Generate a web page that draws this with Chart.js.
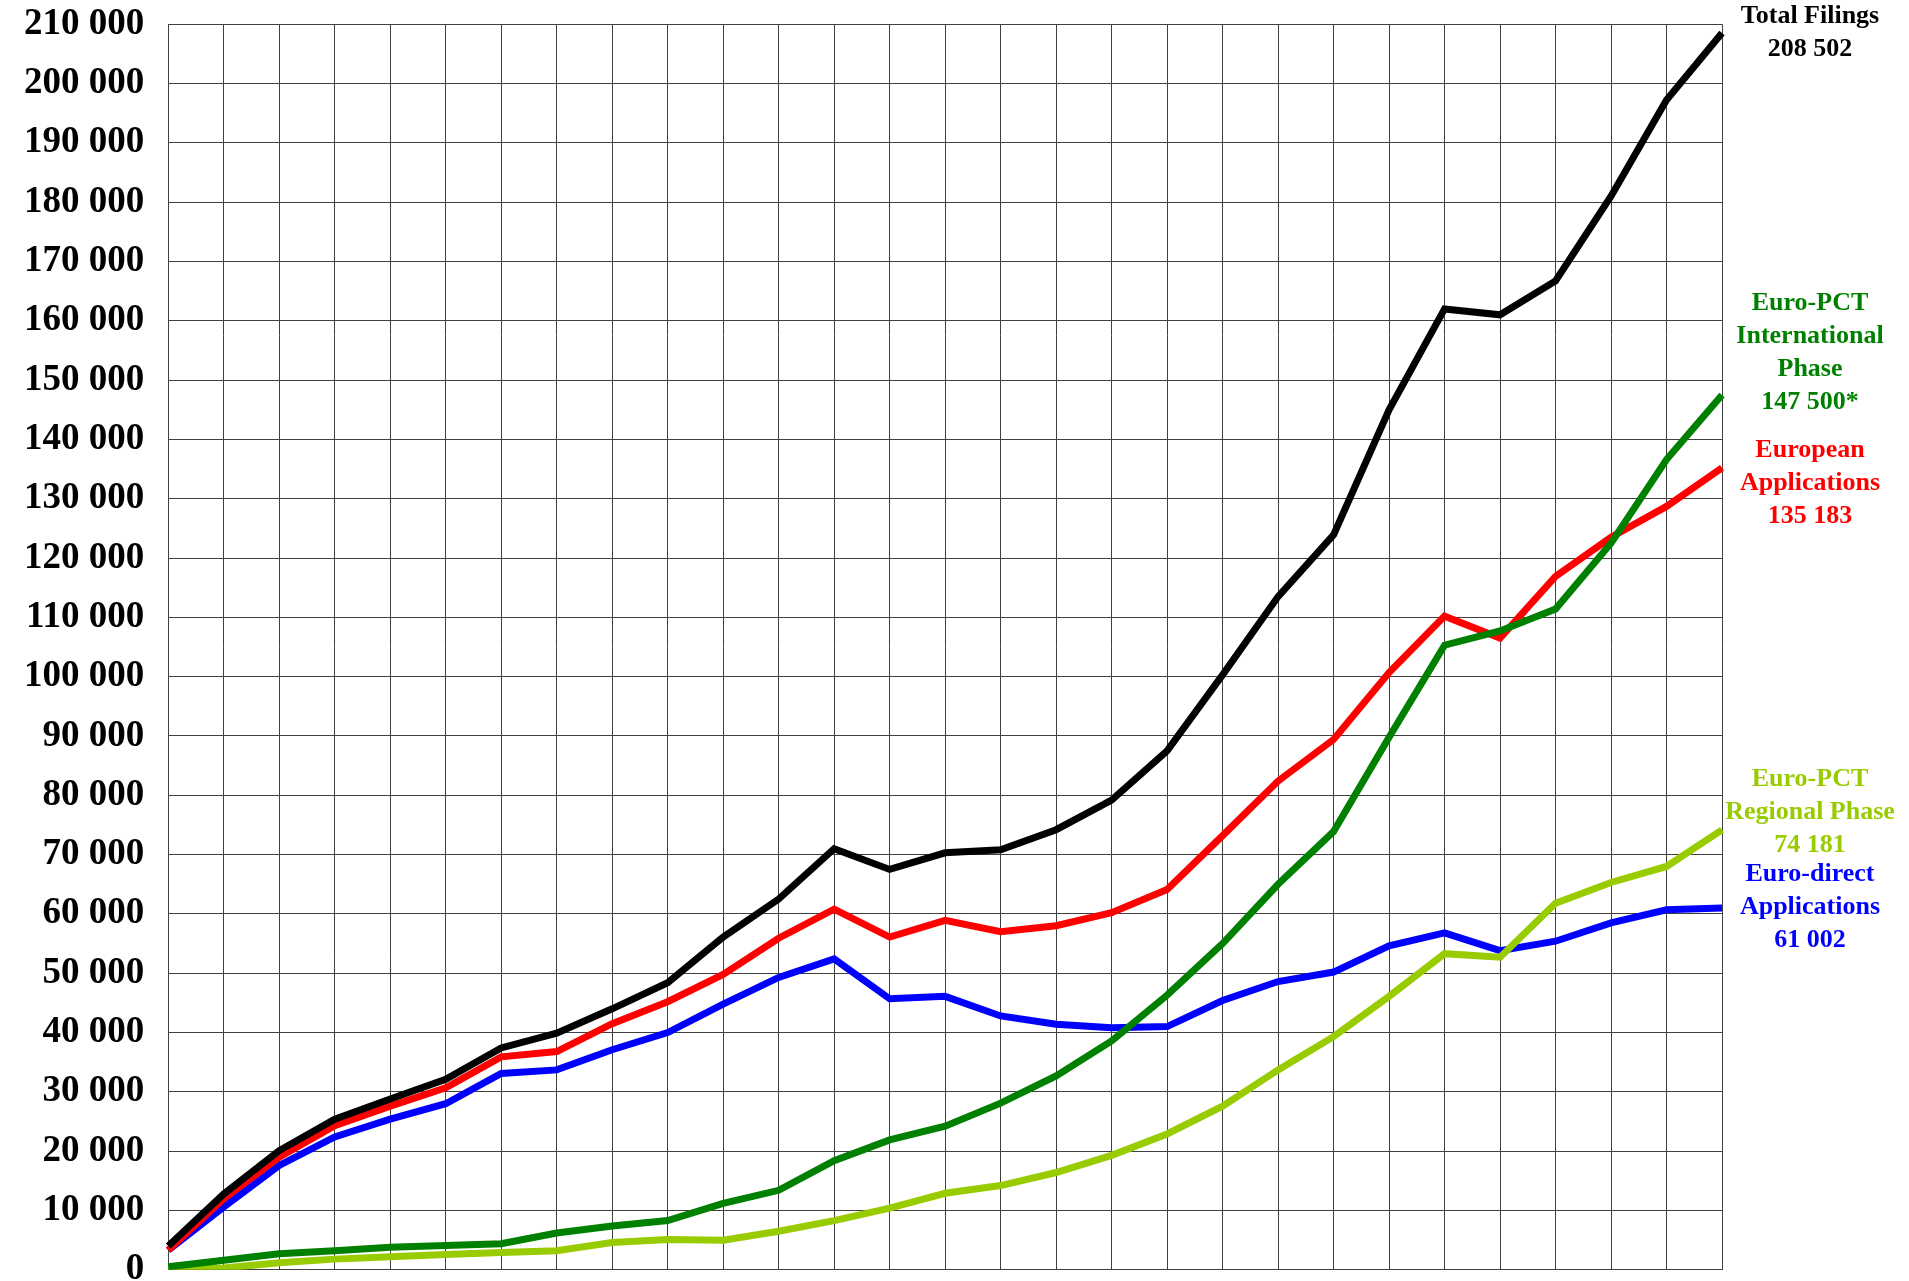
<!DOCTYPE html>
<html>
<head>
<meta charset="utf-8">
<title>EPO filings</title>
<script src="https://cdn.jsdelivr.net/npm/chart.js@4.4.0/dist/chart.umd.min.js"></script>
<style>
  html, body { margin: 0; padding: 0; background: #ffffff; overflow: hidden; }
  /* shifted up so the plot box starts near the top edge, as in the original */
  #wrap { position: absolute; left: 0; top: -22px; width: 1909px; height: 1338px; }
</style>
</head>
<body>
<div id="wrap"><canvas id="filingsChart"></canvas></div>
<script>
// 29 yearly points, no x labels shown on the original
const years = [
  1978, 1979, 1980, 1981, 1982, 1983, 1984, 1985, 1986, 1987,
  1988, 1989, 1990, 1991, 1992, 1993, 1994, 1995, 1996, 1997,
  1998, 1999, 2000, 2001, 2002, 2003, 2004, 2005, 2006,
];

const totalFilings = [
  4000, 12800, 20100, 25400, 28800, 32100, 37400, 39900, 44000, 48400,
  56100, 62500, 71000, 67500, 70300, 70800, 74200, 79200, 87500, 100300,
  113500, 123900, 145000, 162000, 161000, 166700, 181000, 197200, 208502,
];

const pctInternational = [
  500, 1600, 2700, 3200, 3800, 4100, 4400, 6200, 7400, 8300,
  11200, 13400, 18400, 21900, 24200, 28100, 32700, 38600, 46300, 55000,
  65000, 73900, 89800, 105300, 107700, 111400, 122500, 136600, 147500,
];

const europeanApps = [
  3300, 12000, 19000, 24300, 27600, 30700, 35900, 36800, 41500, 45200,
  49800, 55900, 60800, 56100, 58900, 57000, 58000, 60200, 64100, 73200,
  82400, 89400, 100700, 110200, 106500, 116900, 123500, 128700, 135183,
];

const pctRegional = [
  0, 300, 1200, 1800, 2200, 2600, 2900, 3200, 4600, 5100,
  5000, 6500, 8300, 10400, 12900, 14200, 16400, 19300, 22900, 27600,
  33700, 39300, 46100, 53300, 52700, 61800, 65300, 68000, 74181,
];

const euroDirect = [
  3300, 10600, 17600, 22400, 25400, 28000, 33100, 33700, 37100, 40000,
  44800, 49300, 52400, 45700, 46100, 42800, 41400, 40800, 41000, 45400,
  48600, 50200, 54600, 56800, 53800, 55400, 58500, 60700, 61002,
];

const yTicks = [0, 10000, 20000, 30000, 40000, 50000, 60000, 70000, 80000, 90000,
  100000, 110000, 120000, 130000, 140000, 150000, 160000, 170000, 180000, 190000,
  200000, 210000];

const fmt = (v) => String(v).replace(/\B(?=(\d{3})+(?!\d))/g, " ");
const last = (arr) => arr[arr.length - 1];

// labels on the right side of the plot
const sideBlocks = [
  { color: "#000000", top: 16, lines: ["Total Filings", fmt(last(totalFilings))] },
  { color: "#008000", top: 303, lines: ["Euro-PCT", "International", "Phase", fmt(last(pctInternational)) + "*"] },
  { color: "#ff0000", top: 450, lines: ["European", "Applications", fmt(last(europeanApps))] },
  { color: "#99cc00", top: 779, lines: ["Euro-PCT", "Regional Phase", fmt(last(pctRegional))] },
  { color: "#0000ff", top: 874, lines: ["Euro-direct", "Applications", fmt(last(euroDirect))] },
];

const sideLabels = {
  id: "sideLabels",
  afterDatasetsDraw(chart) {
    const { ctx, chartArea } = chart;
    const cx = chartArea.right + 88;
    const shift = 22; // canvas sits 22px above the page top
    ctx.save();
    ctx.font = "bold 26px 'Liberation Serif'";
    ctx.textAlign = "center";
    ctx.textBaseline = "middle";
    sideBlocks.forEach((block) => {
      ctx.fillStyle = block.color;
      block.lines.forEach((line, i) => {
        ctx.fillText(line, cx, shift + block.top + i * 33);
      });
    });
    ctx.restore();
  },
};

const line = (label, data, color) => ({
  label: label,
  data: data,
  borderColor: color,
  backgroundColor: color,
  borderWidth: 7,
  pointRadius: 0,
  tension: 0,
  fill: false,
});

const ctx = document.getElementById("filingsChart").getContext("2d");
const filingsChart = new Chart(ctx, {
  type: "line",
  data: {
    labels: years,
    datasets: [
      line("Total Filings", totalFilings, "#000000"),
      line("Euro-PCT International Phase", pctInternational, "#008000"),
      line("European Applications", europeanApps, "#ff0000"),
      line("Euro-PCT Regional Phase", pctRegional, "#99cc00"),
      line("Euro-direct Applications", euroDirect, "#0000ff"),
    ],
  },
  options: {
    responsive: true,
    maintainAspectRatio: false,
    animation: false,
    layout: { padding: { top: 0, right: 187, bottom: 0, left: 0 } },
    plugins: {
      legend: { display: false },
      tooltip: { enabled: false },
    },
    scales: {
      x: {
        offset: false,
        ticks: { display: false },
        grid: { color: "#404040", lineWidth: 1, drawTicks: false, tickLength: 0 },
        border: { color: "#404040", width: 1 },
      },
      y: {
        min: 0,
        max: 210000,
        afterBuildTicks: (axis) => {
          axis.ticks = yTicks.map((v) => ({ value: v }));
        },
        ticks: {
          color: "#000000",
          font: { family: "'Liberation Serif'", weight: "bold", size: 37 },
          padding: 24,
          callback: (value) => fmt(value),
        },
        grid: { color: "#404040", lineWidth: 1, drawTicks: false, tickLength: 0 },
        border: { color: "#404040", width: 1 },
      },
    },
  },
  plugins: [sideLabels],
});
</script>
</body>
</html>
